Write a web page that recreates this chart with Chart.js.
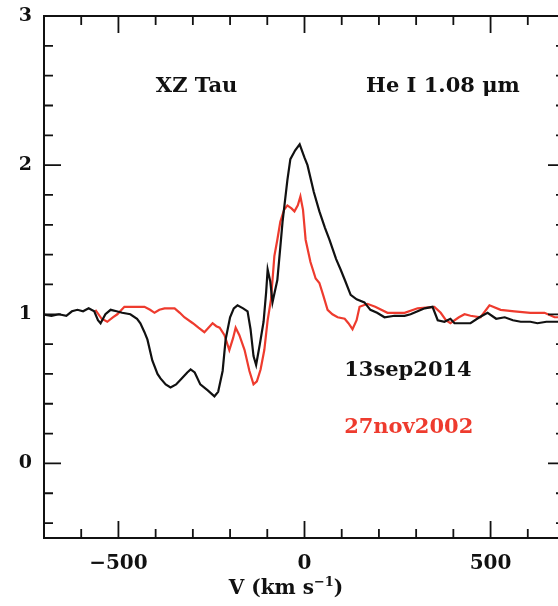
<!DOCTYPE html>
<html>
<head>
<meta charset="utf-8">
<script src="https://cdn.jsdelivr.net/npm/chart.js@4.4.1/dist/chart.umd.min.js"></script>
<style>
  html, body { margin: 0; padding: 0; background: #fff; overflow: hidden; }
  #wrap { width: 580px; height: 606px; }
</style>
</head>
<body>
<div id="wrap"><canvas id="perfil" width="580" height="606"></canvas></div>
<script>
// 13sep2014 (black)
var vel2014 = [-705,-680,-660,-640,-625,-610,-595,-580,-565,-555,-548,-535,-521,-505,-490,-468,-450,-441,-430,-422,
  -409,-395,-387,-373,-360,-345,-330,-315,-306,-295,-280,-260,-242,-232,-220,-212,-200,-190,-180,-165,
  -153,-145,-137,-130,-120,-110,-103,-99,-92,-86,-80,-73,-65,-59,-46,-38,-25,-13,0,8,
  25,40,55,67,85,97,110,124,140,161,177,195,215,242,269,285,304,323,344,358,
  376,392,403,430,446,470,492,515,538,560,581,607,626,650,672,700];
var flux2014 = [1.00,0.99,1.00,0.99,1.02,1.03,1.02,1.04,1.02,0.96,0.94,1.00,1.03,1.02,1.01,1.00,0.97,0.94,0.88,0.83,
  0.69,0.60,0.57,0.53,0.51,0.53,0.57,0.61,0.63,0.61,0.53,0.49,0.45,0.48,0.62,0.83,0.98,1.04,1.06,1.04,
  1.02,0.90,0.72,0.66,0.80,0.95,1.15,1.30,1.22,1.08,1.15,1.23,1.45,1.62,1.90,2.04,2.10,2.14,2.05,2.00,
  1.82,1.69,1.58,1.50,1.37,1.30,1.22,1.13,1.10,1.08,1.03,1.01,0.98,0.99,0.99,1.00,1.02,1.04,1.05,0.96,
  0.95,0.97,0.94,0.94,0.94,0.98,1.01,0.97,0.98,0.96,0.95,0.95,0.94,0.95,0.95,0.95];

// 27nov2002 (red)
var vel2002 = [-562,-545,-530,-515,-503,-484,-460,-430,-415,-403,-390,-376,-349,-335,-323,-300,-285,-269,-258,-247,
  -237,-228,-215,-202,-192,-185,-175,-161,-148,-137,-128,-118,-108,-99,-90,-81,-73,-65,-55,-46,
  -35,-27,-18,-11,-4,3,16,30,40,50,62,75,89,108,118,129,140,148,169,190,
  223,269,304,349,366,380,392,415,430,446,473,497,527,564,607,645,672,700];
var flux2002 = [1.03,0.97,0.95,0.98,1.00,1.05,1.05,1.05,1.03,1.01,1.03,1.04,1.04,1.01,0.98,0.94,0.91,0.88,0.91,0.94,
  0.92,0.91,0.86,0.76,0.84,0.91,0.86,0.76,0.62,0.53,0.55,0.63,0.76,0.96,1.10,1.39,1.50,1.62,1.70,1.73,
  1.71,1.69,1.73,1.79,1.70,1.50,1.35,1.24,1.21,1.13,1.03,1.00,0.98,0.97,0.94,0.90,0.96,1.05,1.07,1.05,
  1.01,1.01,1.04,1.05,1.01,0.96,0.94,0.98,1.00,0.99,0.98,1.06,1.03,1.02,1.01,1.01,0.98,0.98];

var xMayores = [-500, 0, 500];
var xMenores = [-600,-400,-300,-200,-100,100,200,300,400,600];
var yMayores = [0, 1, 2, 3];
var yMenores = [-0.4,-0.2,0.2,0.4,0.6,0.8,1.2,1.4,1.6,1.8,2.2,2.4,2.6,2.8];

var negro = '#111111';
var rojo = '#ee3b2e';
var fuente = "'DejaVu Serif', serif";

function puntos(xs, ys) {
  return xs.map(function (v, i) { return { x: v, y: ys[i] }; });
}

var marco = {
  id: 'marco',
  afterDraw: function (chart) {
    var c = chart.ctx, a = chart.chartArea;
    var sx = chart.scales.x, sy = chart.scales.y;
    c.save();
    c.strokeStyle = negro;
    c.lineWidth = 2;
    c.strokeRect(a.left, a.top, a.right - a.left, a.bottom - a.top);
    c.lineWidth = 1.8;
    c.beginPath();
    function marcaX(v, largo) {
      var p = sx.getPixelForValue(v);
      c.moveTo(p, a.bottom); c.lineTo(p, a.bottom - largo);
      c.moveTo(p, a.top); c.lineTo(p, a.top + largo);
    }
    function marcaY(v, largo) {
      var p = sy.getPixelForValue(v);
      c.moveTo(a.left, p); c.lineTo(a.left + largo, p);
      c.moveTo(a.right, p); c.lineTo(a.right - largo, p);
    }
    xMayores.forEach(function (v) { marcaX(v, 17); });
    xMenores.forEach(function (v) { marcaX(v, 9); });
    yMayores.forEach(function (v) { marcaY(v, 17); });
    yMenores.forEach(function (v) { marcaY(v, 9); });
    c.stroke();

    // textos
    c.font = 'bold 21px ' + fuente;
    c.textBaseline = 'middle';
    c.textAlign = 'center';
    c.fillStyle = negro;
    c.fillText('XZ Tau', sx.getPixelForValue(-290), sy.getPixelForValue(2.53));
    c.fillText('He I 1.08 \u03bcm', sx.getPixelForValue(372), sy.getPixelForValue(2.53));
    c.fillText('13sep2014', sx.getPixelForValue(278), sy.getPixelForValue(0.62));
    c.fillStyle = rojo;
    c.fillText('27nov2002', sx.getPixelForValue(280), sy.getPixelForValue(0.24));

    // titulo eje x con superindice
    c.fillStyle = negro;
    c.textAlign = 'left';
    var t1 = 'V (km s', t2 = '\u22121', t3 = ')';
    c.font = 'bold 20px ' + fuente;
    var w1 = c.measureText(t1).width, w3 = c.measureText(t3).width;
    c.font = 'bold 13px ' + fuente;
    var w2 = c.measureText(t2).width;
    var x0 = 286 - (w1 + w2 + w3) / 2, yb = 589;
    c.font = 'bold 20px ' + fuente;
    c.fillText(t1, x0, yb);
    c.font = 'bold 13px ' + fuente;
    c.fillText(t2, x0 + w1, yb - 6);
    c.font = 'bold 20px ' + fuente;
    c.fillText(t3, x0 + w1 + w2, yb);
    c.restore();
  }
};

var grafica = new Chart(document.getElementById('perfil').getContext('2d'), {
  type: 'line',
  data: {
    datasets: [{
      label: '13sep2014',
      data: puntos(vel2014, flux2014),
      borderColor: negro,
      borderWidth: 2.2,
      pointRadius: 0,
      tension: 0
    }, {
      label: '27nov2002',
      data: puntos(vel2002, flux2002),
      borderColor: rojo,
      borderWidth: 2.2,
      pointRadius: 0,
      tension: 0
    }]
  },
  options: {
    responsive: false,
    animation: false,
    devicePixelRatio: 1,
    layout: { padding: { top: 16, right: 15, left: 0, bottom: 0 } },
    plugins: { legend: { display: false }, tooltip: { enabled: false } },
    scales: {
      x: {
        type: 'linear', min: -700, max: 700,
        grid: { display: false, drawTicks: false },
        border: { display: false },
        afterBuildTicks: function (s) { s.ticks = xMayores.map(function (v) { return { value: v }; }); },
        afterFit: function (s) { s.height = 68; s.paddingLeft = 0; s.paddingRight = 0; },
        ticks: {
          color: negro, padding: 14, maxRotation: 0,
          font: { family: fuente, size: 20, weight: 'bold' },
          callback: function (v) { return v < 0 ? '\u2212' + Math.abs(v) : String(v); }
        }
      },
      y: {
        min: -0.5, max: 3,
        grid: { display: false, drawTicks: false },
        border: { display: false },
        afterBuildTicks: function (s) { s.ticks = yMayores.map(function (v) { return { value: v }; }); },
        afterFit: function (s) { s.width = 44; s.paddingTop = 0; s.paddingBottom = 0; },
        ticks: {
          color: negro, padding: 12,
          font: { family: fuente, size: 19, weight: 'bold' }
        }
      }
    }
  },
  plugins: [marco]
});
</script>
</body>
</html>
